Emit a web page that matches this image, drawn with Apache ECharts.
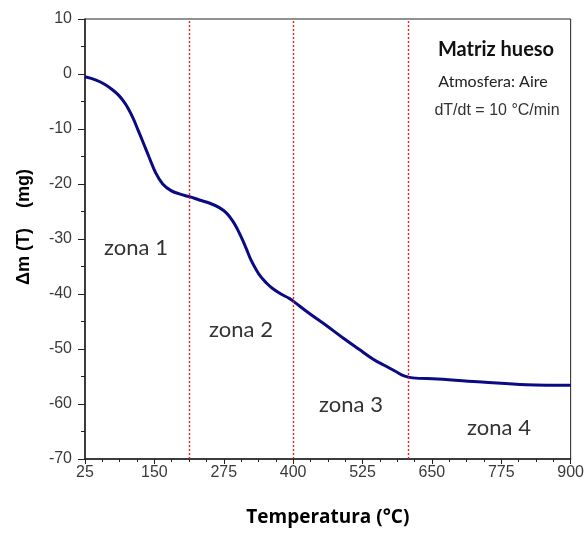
<!DOCTYPE html>
<html>
<head>
<meta charset="utf-8">
<script src="https://cdn.jsdelivr.net/npm/echarts@6/dist/echarts.min.js"></script>
<style>
  html, body { margin: 0; padding: 0; background: #fff; }
  #chart { width: 587px; height: 533px; }
</style>
</head>
<body>
<div id="chart"></div>
<script>
// Thermogravimetric curve of the bone matrix (mass change vs temperature)
const temperature = [25, 45, 61, 75, 85, 94, 103, 112, 121, 130, 140, 152, 165, 180, 195, 213, 231, 250, 267, 280, 291, 300, 309, 317, 324, 333, 342, 352, 363, 378, 393, 400, 430, 458, 490, 518, 545, 565, 585, 600, 615, 660, 740, 820, 900];
const massChange  = [-0.5, -1.1, -1.9, -2.9, -3.8, -4.9, -6.3, -8.1, -10.3, -12.5, -15.0, -17.9, -20.0, -21.2, -21.8, -22.3, -22.9, -23.5, -24.3, -25.3, -26.7, -28.3, -30.2, -32.1, -33.8, -35.5, -36.9, -38.0, -39.0, -40.0, -40.8, -41.3, -43.6, -45.6, -48.0, -50.0, -51.9, -53.0, -54.1, -54.9, -55.25, -55.45, -56.0, -56.5, -56.6];

// Zone boundaries (°C)
const zoneLimits = [213, 400, 608];
const zoneNames = ['zona 1', 'zona 2', 'zona 3', 'zona 4'];

const chart = echarts.init(document.getElementById('chart'));

const tickFont = { fontFamily: 'Liberation Sans, Arial, sans-serif', fontSize: 16, color: '#3a3a3a' };
const zoneFont = { fontFamily: 'Lato, sans-serif', fontSize: 22, fill: '#333' };
const zonePos = [[136, 248], [241, 330], [351, 405], [499, 428]];

chart.setOption({
  animation: false,
  grid: {
    left: 85, right: 14, top: 19, bottom: 74,
    show: true, borderColor: '#222', borderWidth: 1, backgroundColor: 'transparent'
  },
  xAxis: {
    type: 'value',
    min: 25, max: 900, interval: 125,
    axisLine: { onZero: false, lineStyle: { color: '#222', width: 1.5 } },
    axisTick: { length: 5, lineStyle: { color: '#222' } },
    minorTick: { show: true, splitNumber: 4, length: 3, lineStyle: { color: '#222' } },
    splitLine: { show: false },
    axisLabel: Object.assign({ margin: 6 }, tickFont),
    name: 'Temperatura (°C)',
    nameLocation: 'middle',
    nameGap: 49,
    nameTextStyle: { fontFamily: 'Open Sans, sans-serif', fontSize: 19, fontWeight: 'bold', color: '#000' }
  },
  yAxis: {
    type: 'value',
    min: -70, max: 10, interval: 10,
    axisLine: { show: true, onZero: false, lineStyle: { color: '#222', width: 1.5 } },
    axisTick: { show: true, length: 7, lineStyle: { color: '#222' } },
    minorTick: { show: true, splitNumber: 2, length: 4, lineStyle: { color: '#222' } },
    splitLine: { show: false },
    axisLabel: Object.assign({ margin: 13 }, tickFont)
  },
  series: [{
    type: 'line',
    data: temperature.map((t, i) => [t, massChange[i]]),
    smooth: 0.4,
    showSymbol: false,
    lineStyle: { color: '#0a0a85', width: 3 },
    markLine: {
      silent: true,
      symbol: 'none',
      label: { show: false },
      lineStyle: { color: '#ff0000', width: 1.4, type: [2, 2], opacity: 0.9 },
      data: zoneLimits.map(v => ({ xAxis: v }))
    }
  }],
  graphic: [
    ...zoneNames.map((name, i) => ({
      type: 'text', x: zonePos[i][0], y: zonePos[i][1],
      style: Object.assign({ text: name, align: 'center', verticalAlign: 'middle' }, zoneFont)
    })),
    { type: 'text', x: 24, y: 227, rotation: Math.PI / 2,
      style: { text: 'Δm (T)    (mg)', align: 'center', verticalAlign: 'middle', fontFamily: 'Liberation Sans, Arial, sans-serif', fontSize: 18, fontWeight: 'bold', fill: '#000' } },
    { type: 'text', x: 496, y: 50, style: { text: 'Matriz hueso', align: 'center', verticalAlign: 'middle', fontFamily: 'Lato, sans-serif', fontSize: 20, fontWeight: 'bold', fill: '#111' } },
    { type: 'text', x: 493, y: 82, style: { text: 'Atmosfera: Aire', align: 'center', verticalAlign: 'middle', fontFamily: 'Lato, sans-serif', fontSize: 16, fill: '#222' } },
    { type: 'text', x: 497, y: 111, style: { text: 'dT/dt = 10 °C/min', align: 'center', verticalAlign: 'middle', fontFamily: 'Liberation Sans, Arial, sans-serif', fontSize: 16, fill: '#333' } }
  ]
});
</script>
</body>
</html>
